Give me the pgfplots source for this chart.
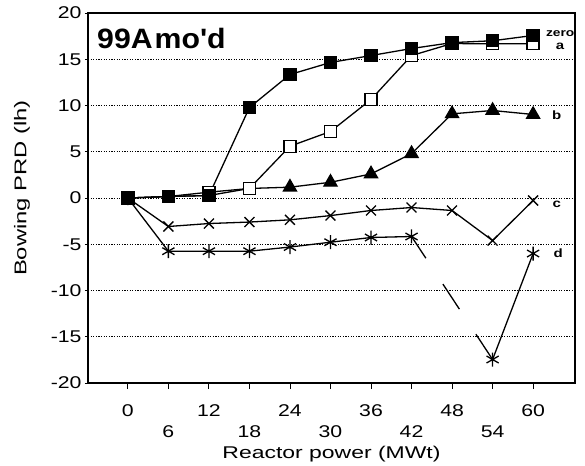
\documentclass[border=0pt]{standalone}
\usepackage{fontspec}
\setmainfont[FakeStretch=1.25]{Liberation Sans}
\newfontfamily\lblfont[FakeStretch=1.35]{Liberation Sans}
\newfontfamily\plainfont{Liberation Sans}
\newfontfamily\ttlfont[FakeStretch=1.08]{Liberation Sans}
\usepackage{graphicx}
\usepackage{pgfplots}
\pgfplotsset{compat=1.18}
\begin{document}
\begin{tikzpicture}
\begin{axis}[name=ax, scale only axis, width=487pt, height=370pt,
  xmin=-5.9, xmax=66.2, ymin=-20, ymax=20,
  xtick={0,12,24,36,48,60},
  extra x ticks={6,18,30,42,54},
  extra x tick style={grid=none, xticklabel style={yshift=-21pt}},
  xticklabel style={yshift=-12pt},
  yticklabel style={xshift=3pt},
  ytick={-20,-15,...,20},
  xtick pos=bottom, ytick pos=left, tick align=outside,
  major tick length=6pt,
  ytick style={/pgfplots/major tick length=3pt},
  tick style={black, line width=0.9pt},
  ymajorgrids, grid style={black, line width=0.8pt, dash pattern=on 1.2pt off 1.4pt},
  tick label style={font=\fontsize{17}{19}\selectfont},
  /pgf/number format/assume math mode=true,
  xlabel={Reactor power (MWt)},
  xlabel style={font=\lblfont\fontsize{17}{19}\selectfont, at={(axis description cs:0.5,0)}, anchor=center, yshift=-71pt},
  axis line style={line width=1.1pt},
  clip=false,
  every axis plot/.append style={black, line width=1.3pt},
]
% series a (open squares)
\addplot[no marks] coordinates {(0,0)(6,0.16)(12,0.63)(18,1.03)(24,5.6)(30,7.19)(36,10.65)(42,15.4)(48,16.7)(54,16.67)(60,16.67)};
\addplot[only marks, mark=square*, mark options={fill=white, draw=black, line width=1.3pt}, mark size=6pt] coordinates {(12,0.63)(18,1.03)(24,5.6)(30,7.19)(36,10.65)(42,15.4)(48,16.7)(54,16.67)(60,16.67)};
% series b (triangles)
\addplot[no marks] coordinates {(0,0)(6,0.16)(12,0.27)(18,1.03)(24,1.17)(30,1.7)(36,2.6)(42,4.8)(48,9.1)(54,9.46)(60,9.03)};
\addplot[only marks, mark=triangle*, mark size=7.5pt] coordinates {(24,1.17)(30,1.7)(36,2.6)(42,4.8)(48,9.1)(54,9.46)(60,9.03)};
% series c (x)
\addplot[mark=x, mark size=7pt, mark options={line width=1.3pt}] coordinates {(0,0)(6,-3.08)(12,-2.76)(18,-2.6)(24,-2.36)(30,-1.9)(36,-1.35)(42,-1.03)(48,-1.35)(54,-4.6)(60,-0.27)};
% series d (asterisks)
\addplot[mark=asterisk, mark size=7pt, mark options={line width=1.3pt}] coordinates {(0,0)(6,-5.75)(12,-5.75)(18,-5.75)(24,-5.3)(30,-4.78)(36,-4.27)(42,-4.16)};
\addplot[no marks, dash pattern=on 26pt off 31pt on 30pt off 30pt on 30pt] coordinates {(42,-4.16)(54,-17.46)};
\addplot[mark=asterisk, mark size=7pt, mark options={line width=1.3pt}] coordinates {(54,-17.46)(60,-6.0)};
% series zero (filled squares)
\addplot[mark=square*, mark size=6pt] coordinates {(0,0)(6,0.16)(12,0.27)(18,9.78)(24,13.35)(30,14.65)(36,15.4)(42,16.16)(48,16.8)(54,17.0)(60,17.57)};
% labels
\node[font=\bfseries\fontsize{11}{12}\selectfont, inner sep=0pt] at (axis cs:64,17.8) {zero};
\node[font=\bfseries\fontsize{12}{13}\selectfont, inner sep=0pt] at (axis cs:64,16.4) {a};
\node[font=\bfseries\fontsize{12}{13}\selectfont, inner sep=0pt] at (axis cs:63.5,8.9) {b};
\node[font=\bfseries\fontsize{12}{13}\selectfont, inner sep=0pt] at (axis cs:63.5,-0.65) {c};
\node[font=\bfseries\fontsize{12}{13}\selectfont, inner sep=0pt] at (axis cs:63.7,-6.0) {d};
\node[font=\ttlfont\bfseries\fontsize{28}{30}\selectfont, anchor=base west, inner sep=0pt] at (axis description cs:0.0185,0.905) {99A\hspace{2pt}mo'd};
\end{axis}
\node[rotate=90, font=\plainfont\fontsize{17}{19}\selectfont, inner sep=0pt] at ([xshift=-66pt, yshift=10pt]ax.west) {\scalebox{1.4}[1]{Bowing PRD (lh)}};
\path (ax.south west) ++(-88pt,-80pt) rectangle ++(585pt,463pt);
\end{tikzpicture}
\end{document}
